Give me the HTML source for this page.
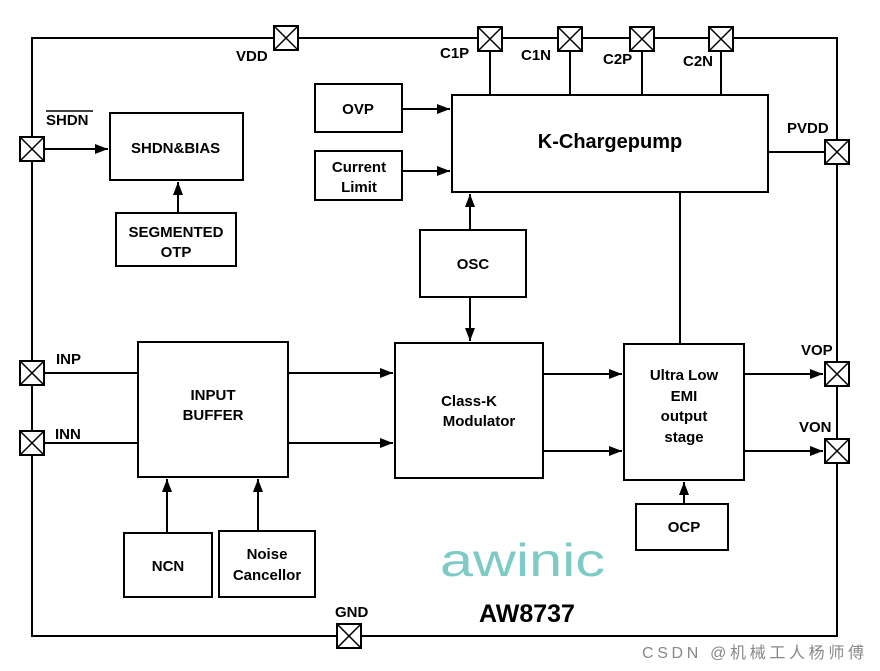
<!DOCTYPE html>
<html><head><meta charset="utf-8"><style>
body{margin:0;background:#fff;width:880px;height:671px;overflow:hidden}
svg{display:block}
text{font-family:"Liberation Sans",Arial,sans-serif;font-weight:bold;fill:#000}
</style></head><body>
<svg width="880" height="671" viewBox="0 0 880 671" xmlns="http://www.w3.org/2000/svg">
<defs>
<marker id="a" markerWidth="13" markerHeight="10" refX="13" refY="5" orient="auto" markerUnits="userSpaceOnUse">
<path d="M0,0 L13,5 L0,10 z" fill="#000"/></marker>
<g id="pad"><rect x="0" y="0" width="24" height="24" fill="#fff" stroke="#000" stroke-width="2"/><path d="M0,0L24,24M24,0L0,24" stroke="#000" stroke-width="1.5"/></g>
</defs>
<g fill="none" stroke="#000" stroke-width="2">
<rect x="32" y="38" width="805" height="598"/>
<line x1="490" y1="51" x2="490" y2="95"/><line x1="570" y1="51" x2="570" y2="95"/>
<line x1="642" y1="51" x2="642" y2="95"/><line x1="721" y1="51" x2="721" y2="95"/>
<line x1="768" y1="152" x2="825" y2="152"/>
<line x1="680" y1="192" x2="680" y2="344"/>
<rect x="110" y="113" width="133" height="67"/>
<rect x="116" y="213" width="120" height="53"/>
<rect x="315" y="84" width="87" height="48"/>
<rect x="315" y="151" width="87" height="49"/>
<rect x="452" y="95" width="316" height="97"/>
<rect x="420" y="230" width="106" height="67"/>
<rect x="138" y="342" width="150" height="135"/>
<rect x="395" y="343" width="148" height="135"/>
<rect x="624" y="344" width="120" height="136"/>
<rect x="636" y="504" width="92" height="46"/>
<rect x="124" y="533" width="88" height="64"/>
<rect x="219" y="531" width="96" height="66"/>
</g>
<g stroke="#000" stroke-width="2" marker-end="url(#a)">
<line x1="44" y1="149" x2="108" y2="149"/>
<line x1="178" y1="213" x2="178" y2="182"/>
<line x1="402" y1="109" x2="450" y2="109"/>
<line x1="402" y1="171" x2="450" y2="171"/>
<line x1="470" y1="230" x2="470" y2="194"/>
<line x1="470" y1="297" x2="470" y2="341"/>
<line x1="288" y1="373" x2="393" y2="373"/>
<line x1="288" y1="443" x2="393" y2="443"/>
<line x1="543" y1="374" x2="622" y2="374"/>
<line x1="543" y1="451" x2="622" y2="451"/>
<line x1="744" y1="374" x2="823" y2="374"/>
<line x1="744" y1="451" x2="823" y2="451"/>
<line x1="684" y1="504" x2="684" y2="482"/>
<line x1="167" y1="533" x2="167" y2="479"/>
<line x1="258" y1="531" x2="258" y2="479"/>
</g>
<g stroke="#000" stroke-width="2"><line x1="44" y1="373" x2="138" y2="373"/><line x1="44" y1="443" x2="138" y2="443"/></g>
<use href="#pad" x="274" y="26"/><use href="#pad" x="478" y="27"/><use href="#pad" x="558" y="27"/>
<use href="#pad" x="630" y="27"/><use href="#pad" x="709" y="27"/><use href="#pad" x="825" y="140"/>
<use href="#pad" x="20" y="137"/><use href="#pad" x="20" y="361"/><use href="#pad" x="20" y="431"/>
<use href="#pad" x="825" y="362"/><use href="#pad" x="825" y="439"/><use href="#pad" x="337" y="624"/>
<g font-size="15">
<text x="236" y="61">VDD</text><text x="440" y="58">C1P</text><text x="521" y="60">C1N</text>
<text x="603" y="64">C2P</text><text x="683" y="66">C2N</text><text x="787" y="133">PVDD</text>
<text x="46" y="125">SHDN</text><line x1="46" y1="111" x2="93" y2="111" stroke="#000" stroke-width="1.5"/>
<text x="56" y="364">INP</text><text x="55" y="439">INN</text>
<text x="801" y="355">VOP</text><text x="799" y="432">VON</text><text x="335" y="617">GND</text>
<text x="131" y="153">SHDN&amp;BIAS</text>
<text x="176" y="237" text-anchor="middle">SEGMENTED</text><text x="176" y="257" text-anchor="middle">OTP</text>
<text x="358" y="114" text-anchor="middle">OVP</text>
<text x="359" y="172" text-anchor="middle">Current</text><text x="359" y="192" text-anchor="middle">Limit</text>
<text x="473" y="269" text-anchor="middle">OSC</text>
<text x="213" y="400" text-anchor="middle">INPUT</text><text x="213" y="420" text-anchor="middle">BUFFER</text>
<text x="469" y="406" text-anchor="middle">Class-K</text><text x="479" y="426" text-anchor="middle">Modulator</text>
<text x="684" y="380" text-anchor="middle">Ultra Low</text><text x="684" y="401" text-anchor="middle">EMI</text>
<text x="684" y="421" text-anchor="middle">output</text><text x="684" y="442" text-anchor="middle">stage</text>
<text x="684" y="532" text-anchor="middle">OCP</text>
<text x="168" y="571" text-anchor="middle">NCN</text>
<text x="267" y="559" text-anchor="middle">Noise</text><text x="267" y="580" text-anchor="middle">Cancellor</text>
</g>
<text x="610" y="148" font-size="20" text-anchor="middle">K-Chargepump</text>
<text x="440" y="576" font-size="46" textLength="165" lengthAdjust="spacingAndGlyphs" style="font-weight:normal;fill:#7ecbc6">awinic</text>
<text x="527" y="622" font-size="25" text-anchor="middle">AW8737</text>
<text x="642" y="658" font-size="16" textLength="222" style="font-weight:normal;fill:#888;font-family:'Liberation Sans','Noto Sans CJK SC',sans-serif">CSDN @机械工人杨师傅</text>
</svg>
</body></html>
